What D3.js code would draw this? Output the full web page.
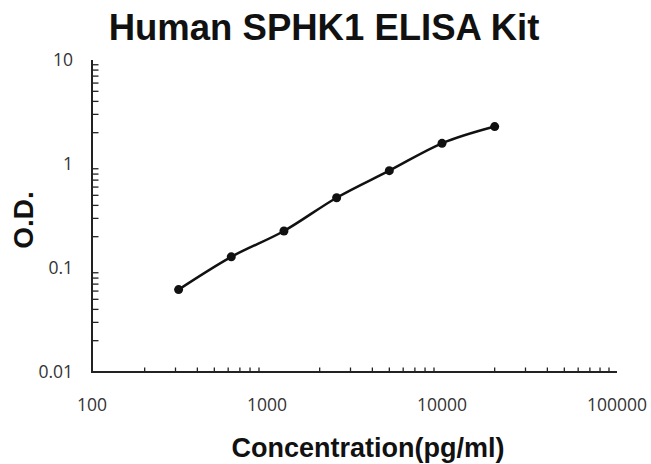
<!DOCTYPE html>
<html>
<head>
    <title>Human SPHK1 ELISA Kit</title>
    <script src="https://d3js.org/d3.v7.min.js"></script>
    <style>
        body { margin: 0; background: #fff; font-family: "Liberation Sans", Arial, sans-serif; }
    </style>
</head>
<body>
<script>
    const concentration = [312.5, 625, 1250, 2500, 5000, 10000, 20000];
    const od = [0.062, 0.128, 0.227, 0.474, 0.863, 1.58, 2.29];
    const xTicks = [100, 1000, 10000, 100000];
    const yTicks = [0.01, 0.1, 1, 10];

    const width = 651, height = 464;
    const svg = d3.select('body').append('svg')
        .attr('width', width)
        .attr('height', height)

    const x = d3.scaleLog().domain([100, 100000]).range([92, 617]);
    const y = d3.scaleLog().domain([0.01, 10]).range([372, 60]);

    // minor ticks 2..9 in every decade
    const minor = (lo, hi) => {
        const out = [];
        for (let d = lo; d < hi; d *= 10)
            for (let k = 2; k <= 9; k++) out.push(d * k);
        return out;
    };

    svg.append('g').selectAll('line')
        .data(minor(100, 100000))
        .enter().append('line')
        .attr('x1', d => x(d)).attr('x2', d => x(d))
        .attr('y1', 372).attr('y2', 367.5)
        .attr('stroke', '#222').attr('stroke-width', 1.3)
    svg.append('g').selectAll('line')
        .data(minor(0.01, 10))
        .enter().append('line')
        .attr('y1', d => y(d)).attr('y2', d => y(d))
        .attr('x1', 92).attr('x2', 98.5)
        .attr('stroke', '#222').attr('stroke-width', 1.3)

    // axis lines
    svg.append('line').attr('x1', 92).attr('x2', 92).attr('y1', 60).attr('y2', 372)
        .attr('stroke', '#222').attr('stroke-width', 2)
    svg.append('line').attr('x1', 91).attr('x2', 617).attr('y1', 372).attr('y2', 372)
        .attr('stroke', '#222').attr('stroke-width', 2)

    svg.append('g').selectAll('text')
        .data(xTicks)
        .enter().append('text')
        .attr('x', d => x(d)).attr('y', 411)
        .attr('text-anchor', 'middle')
        .style('font', '17.5px "Open Sans", sans-serif').attr('fill', '#333')
        .text(d => d)
    svg.append('g').selectAll('text')
        .data(yTicks)
        .enter().append('text')
        .attr('x', 73).attr('y', d => y(d) + 6)
        .attr('text-anchor', 'end')
        .style('font', '17.5px "Open Sans", sans-serif').attr('fill', '#333')
        .text(d => d)

    const pts = concentration.map((c, i) => [c, od[i]]);
    const line = d3.line()
        .x(d => x(d[0])).y(d => y(d[1]))
        .curve(d3.curveCardinal.tension(0))
    svg.append('path').datum(pts)
        .attr('d', line)
        .attr('fill', 'none').attr('stroke', '#111').attr('stroke-width', 2.5)
    svg.append('g').selectAll('circle')
        .data(pts)
        .enter().append('circle')
        .attr('cx', d => x(d[0])).attr('cy', d => y(d[1]))
        .attr('r', 4.5).attr('fill', '#111')

    svg.append('text')
        .attr('x', 324).attr('y', 40)
        .attr('text-anchor', 'middle')
        .style('font', 'bold 36.5px "Liberation Sans", Arial, sans-serif').attr('fill', '#111')
        .text('Human SPHK1 ELISA Kit')
    svg.append('text')
        .attr('x', 368).attr('y', 457)
        .attr('text-anchor', 'middle')
        .style('font', 'bold 27px "Liberation Sans", Arial, sans-serif').attr('fill', '#111')
        .text('Concentration(pg/ml)')
    svg.append('text')
        .attr('transform', 'translate(33,220) rotate(-90)')
        .attr('text-anchor', 'middle')
        .style('font', 'bold 28px "Liberation Sans", Arial, sans-serif').attr('fill', '#111')
        .text('O.D.')
</script>
</body>
</html>
